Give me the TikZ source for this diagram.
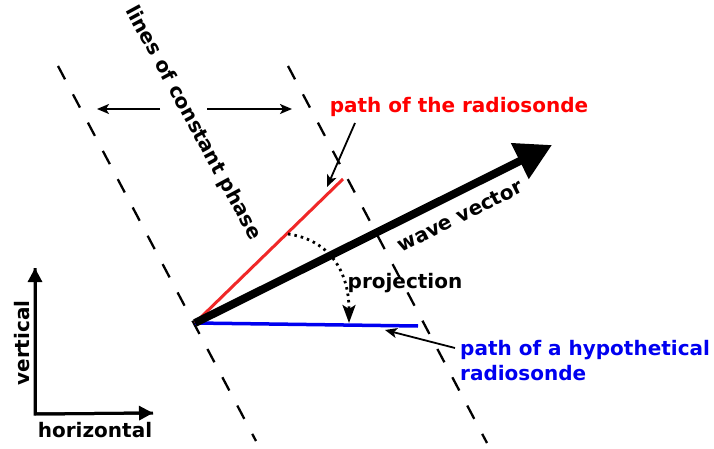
\documentclass[tikz,border=0pt]{standalone}
\usepackage{fontspec}
\setmainfont{DejaVu Sans}
\usetikzlibrary{arrows.meta}
\definecolor{pathred}{RGB}{240,40,40}
\definecolor{txtred}{RGB}{255,0,0}
\definecolor{pathblue}{RGB}{0,0,240}
\tikzset{
  lbl/.style={font=\fontsize{20}{25}\selectfont\bfseries, inner sep=0pt},
  phaseline/.style={line width=2.3pt, dash pattern=on 15pt off 17pt},
  thin arrow/.style={line width=1.8pt, -{Stealth[length=12pt,width=10pt,inset=3pt]}},
  axis arrow/.style={line width=3pt, -{Triangle[length=14pt,width=14pt]}},
}
\begin{document}
\begin{tikzpicture}[x=1pt,y=-1pt]
\useasboundingbox (0,0) rectangle (714,449);
% coordinates
\coordinate (L1a) at (58,66);
\coordinate (L1b) at (256,441);
\coordinate (L2a) at (288,66);
\coordinate (L2b) at (487,443);
\coordinate (O) at (195,323);
\coordinate (W) at (552,145);
\coordinate (R) at (343,179);
\coordinate (B) at (418,326);
\coordinate (P1) at (288,234);
\coordinate (P2) at (349,323);
\coordinate (A0) at (35,414);
\coordinate (AV) at (35,268);
\coordinate (AH) at (153,413);
% lines of constant phase
\draw[phaseline] (L1a) -- (L1b);
\draw[phaseline] (L2a) -- (L2b);
% paths
\draw[pathred, line width=3pt] (O) -- (R);
\draw[pathblue, line width=3.5pt] (O) -- (B);
% wave vector
\draw[line width=8pt, -{Triangle[length=36pt,width=38pt]}] (O) -- (W);
% projection arc
\draw[line width=2.8pt, dash pattern=on 2.5pt off 4pt, -{Stealth[length=18pt,width=13pt,inset=4pt]}]
  (P1) .. controls (330,240) and (349,272) .. (P2);
% labels
\node[lbl, rotate=-61.5] (phase) at (193,123) {lines of constant phase};
\node[lbl, rotate=26.5] (wv) at (460,216) {wave vector};
\node[lbl] (proj) at (405,283) {projection};
\node[lbl, text=txtred] (rtxt) at (459,107) {path of the radiosonde};
\node[lbl, text=pathblue, align=left, anchor=west] (btxt) at (460,361) {path of a hypothetical\\radiosonde};
\node[lbl, rotate=90] (vt) at (22,343) {vertical};
\node[lbl] (ht) at (95,430) {horizontal};
% arrows of phase propagation
\coordinate (la0) at (160,109);
\coordinate (la1) at (97,109);
\coordinate (ra0) at (207,109);
\coordinate (ra1) at (292,109);
\draw[thin arrow] (la0) -- (la1);
\draw[thin arrow] (ra0) -- (ra1);
% pointers
\coordinate (rp0) at (355,123);
\coordinate (rp1) at (327,187);
\draw[thin arrow] (rp0) -- (rp1);
\coordinate (bp0) at (455,348);
\coordinate (bp1) at (385,330);
\draw[thin arrow] (bp0) -- (bp1);
% axes
\draw[line width=3pt] (AV) -- (A0) -- (AH);
\draw[axis arrow] (A0) -- (AV);
\draw[axis arrow] (A0) -- (AH);
\end{tikzpicture}
\end{document}
